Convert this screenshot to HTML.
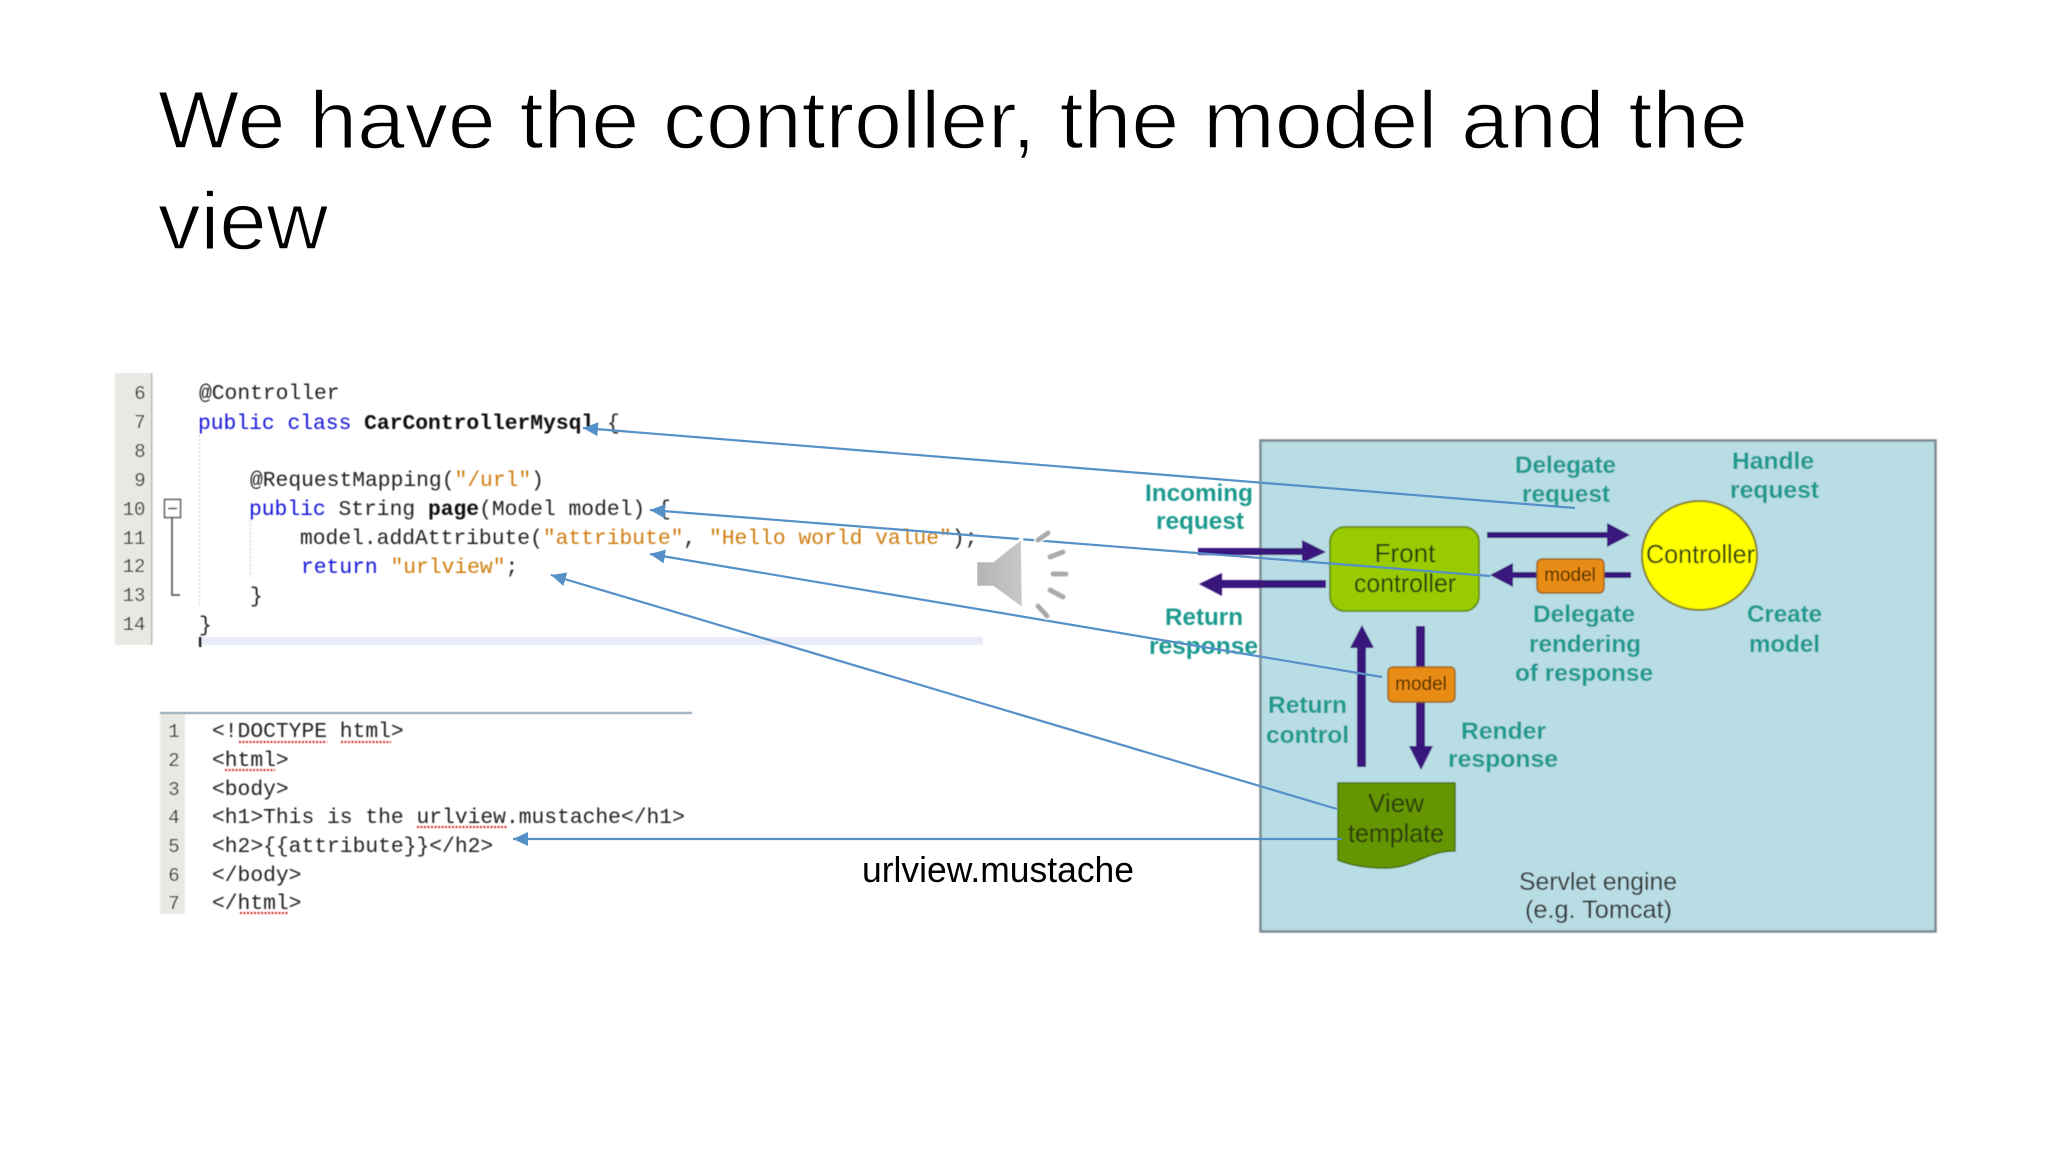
<!DOCTYPE html>
<html>
<head>
<meta charset="utf-8">
<style>
html,body{margin:0;padding:0;background:#fff;width:2048px;height:1152px;overflow:hidden}
svg{display:block}
text{white-space:pre}
.t{font-family:"Liberation Sans",sans-serif;font-size:82px;fill:#000;stroke:#fff;stroke-width:1.4px}
.m{font-family:"Liberation Mono",monospace;font-size:21.3px;fill:#222}
.n{font-family:"Liberation Mono",monospace;font-size:19px;fill:#333;text-anchor:middle}
.k{fill:#1212d8}
.s{fill:#cf7d10}
.b{font-weight:bold;fill:#111}
.l{font-family:"Liberation Sans",sans-serif;font-size:24px;font-weight:bold;fill:#1f9a90}
.d{font-family:"Liberation Sans",sans-serif;font-size:26px;fill:#2c3a10}
.e{font-family:"Liberation Sans",sans-serif;font-size:25px;fill:#333}
.o{font-family:"Liberation Sans",sans-serif;font-size:19px;fill:#4a2500}
.a{stroke:#5590c8;stroke-width:2.2;fill:none;marker-end:url(#h)}
.q{stroke:#d82020;stroke-width:2;stroke-dasharray:2 1.5}
.p{fill:#37127c}
.w{stroke:#fff;stroke-width:8;stroke-linecap:round}
.g{stroke:#a9a9a9;stroke-width:5;stroke-linecap:round}
</style>
</head>
<body>
<svg width="2048" height="1152" viewBox="0 0 2048 1152" xmlns="http://www.w3.org/2000/svg">
<defs>
<marker id="h" markerUnits="userSpaceOnUse" markerWidth="16" markerHeight="14" refX="15" refY="7" orient="auto">
<path d="M0 0L15 7L0 14Z" fill="#5590c8"/>
</marker>
<linearGradient id="sp" x1="0" x2="1" y1="0" y2="0">
<stop offset="0" stop-color="#b4b4b4"/><stop offset="1" stop-color="#c8c8c8"/>
</linearGradient>
<filter id="bl" x="0" y="0" width="100%" height="100%" filterUnits="userSpaceOnUse" primitiveUnits="userSpaceOnUse">
<feGaussianBlur stdDeviation="0.55"/>
</filter>
</defs>
<rect width="2048" height="1152" fill="#fff"/>

<!-- Title -->
<text class="t" x="158" y="148" textLength="1590" lengthAdjust="spacingAndGlyphs">We have the controller, the model and the</text>
<text class="t" x="158" y="249" textLength="170" lengthAdjust="spacingAndGlyphs">view</text>

<g filter="url(#bl)">
<!-- Java code -->
<rect x="115" y="373" width="36" height="272" fill="#e9e9e4"/>
<rect x="151" y="373" width="1.5" height="272" fill="#b8b8b0"/>
<rect x="199" y="637" width="784" height="8" fill="#e9ecf8"/>
<rect x="199" y="637" width="2.5" height="10" fill="#111"/>
<text class="n" x="140" y="399">6</text>
<text class="n" x="140" y="428">7</text>
<text class="n" x="140" y="457">8</text>
<text class="n" x="140" y="486">9</text>
<text class="n" x="134" y="515">10</text>
<text class="n" x="134" y="544">11</text>
<text class="n" x="134" y="572">12</text>
<text class="n" x="134" y="601">13</text>
<text class="n" x="134" y="630">14</text>
<rect x="164.500" y="499.500" width="16" height="18" fill="#fff" stroke="#555" stroke-width="1.5"/>
<line x1="168" x2="177" y1="508.500" y2="508.500" stroke="#333" stroke-width="1.5"/>
<path d="M172 518V595H180" fill="none" stroke="#444" stroke-width="1.5"/>
<line x1="199.500" x2="199.500" y1="435" y2="607" stroke="#c8c8c8" stroke-width="1" stroke-dasharray="2 2"/>
<line x1="250.500" x2="250.500" y1="520" y2="577" stroke="#c8c8c8" stroke-width="1" stroke-dasharray="2 2"/>

<text class="m" x="199" y="399">@Controller</text>
<text class="m" x="198" y="429"><tspan class="k">public class</tspan> <tspan class="b">CarControllerMysql</tspan> {</text>
<text class="m" x="250" y="486">@RequestMapping(<tspan class="s">"/url"</tspan>)</text>
<text class="m" x="249" y="515"><tspan class="k">public</tspan> String <tspan class="b">page</tspan>(Model model) {</text>
<text class="m" x="300" y="544">model.addAttribute(<tspan class="s">"attribute"</tspan>, <tspan class="s">"Hello world value"</tspan>);</text>
<text class="m" x="301" y="573"><tspan class="k">return</tspan> <tspan class="s">"urlview"</tspan>;</text>
<text class="m" x="250" y="602">}</text>
<text class="m" x="199" y="631">}</text>

<!-- HTML code -->
<rect x="160" y="714" width="25" height="200" fill="#e9e9e4"/>
<rect x="160" y="712" width="532" height="2" fill="#8ea2b4"/>
<text class="n" x="174" y="737">1</text>
<text class="n" x="174" y="766">2</text>
<text class="n" x="174" y="795">3</text>
<text class="n" x="174" y="823">4</text>
<text class="n" x="174" y="852">5</text>
<text class="n" x="174" y="881">6</text>
<text class="n" x="174" y="909">7</text>
<text class="m" x="212" y="737">&lt;!DOCTYPE html&gt;</text>
<text class="m" x="212" y="766">&lt;html&gt;</text>
<text class="m" x="212" y="795">&lt;body&gt;</text>
<text class="m" x="212" y="823">&lt;h1&gt;This is the urlview.mustache&lt;/h1&gt;</text>
<text class="m" x="212" y="852">&lt;h2&gt;{{attribute}}&lt;/h2&gt;</text>
<text class="m" x="212" y="881">&lt;/body&gt;</text>
<text class="m" x="212" y="909">&lt;/html&gt;</text>
<line class="q" x1="239" x2="327" y1="742" y2="742"/>
<line class="q" x1="341" x2="391" y1="742" y2="742"/>
<line class="q" x1="225" x2="275" y1="770" y2="770"/>
<line class="q" x1="417" x2="507" y1="827" y2="827"/>
<line class="q" x1="240" x2="289" y1="913" y2="913"/>

<!-- Panel -->
<rect x="1260.500" y="440.500" width="675" height="491" fill="#b9dde4" stroke="#7b8c92" stroke-width="2.500"/>

<!-- Purple arrows -->
<path class="p" d="M1487 532H1607V523L1630 535L1607 547V538H1487Z"/>
<path class="p" d="M1198 548H1302V540L1326 552L1302 563V555H1198Z"/>
<path class="p" d="M1326 580H1222V573L1199 584L1222 596V588H1326Z"/>
<path class="p" d="M1631 572H1513V563L1490 575L1513 587V578H1631Z"/>
<path class="p" d="M1357 767V648H1350L1362 625L1374 648H1366V767Z"/>
<path class="p" d="M1416 626H1425V746H1433L1421 770L1409 746H1416Z"/>

<!-- Front controller -->
<rect x="1330" y="527" width="149" height="84" rx="15" fill="#99cc00" stroke="#6d9412" stroke-width="2"/>
<text class="d" x="1405" y="562" text-anchor="middle">Front</text>
<text class="d" x="1354" y="592" textLength="102" lengthAdjust="spacingAndGlyphs">controller</text>

<!-- Controller -->
<ellipse cx="1699.500" cy="555.500" rx="57.500" ry="54.500" fill="#ffff00" stroke="#848426" stroke-width="2"/>
<text class="d" x="1646" y="563" textLength="109" lengthAdjust="spacingAndGlyphs">Controller</text>

<!-- Model boxes -->
<rect x="1537" y="559" width="67" height="34" rx="5" fill="#e88c12" stroke="#a0651a" stroke-width="1.5"/>
<text class="o" x="1570" y="581" text-anchor="middle">model</text>
<rect x="1388" y="667" width="67" height="35" rx="5" fill="#e88c12" stroke="#a0651a" stroke-width="1.5"/>
<text class="o" x="1421" y="690" text-anchor="middle">model</text>

<!-- View template -->
<path d="M1338 783H1455V851C1425 851 1415 868 1385 868C1365 868 1350 865 1338 860Z" fill="#649600" stroke="#4a7208" stroke-width="1.5"/>
<text class="d" x="1396" y="812" text-anchor="middle">View</text>
<text class="d" x="1348" y="842" textLength="96" lengthAdjust="spacingAndGlyphs">template</text>

<!-- Teal labels -->
<text class="l" x="1145" y="501" textLength="108" lengthAdjust="spacingAndGlyphs">Incoming</text>
<text class="l" x="1156" y="529" textLength="88" lengthAdjust="spacingAndGlyphs">request</text>
<text class="l" x="1165" y="625" textLength="78" lengthAdjust="spacingAndGlyphs">Return</text>
<text class="l" x="1149" y="654" textLength="109" lengthAdjust="spacingAndGlyphs">response</text>
<text class="l" x="1515" y="473" textLength="101" lengthAdjust="spacingAndGlyphs">Delegate</text>
<text class="l" x="1522" y="502" textLength="88" lengthAdjust="spacingAndGlyphs">request</text>
<text class="l" x="1732" y="469" textLength="82" lengthAdjust="spacingAndGlyphs">Handle</text>
<text class="l" x="1730" y="498" textLength="89" lengthAdjust="spacingAndGlyphs">request</text>
<text class="l" x="1533" y="622" textLength="102" lengthAdjust="spacingAndGlyphs">Delegate</text>
<text class="l" x="1529" y="652" textLength="112" lengthAdjust="spacingAndGlyphs">rendering</text>
<text class="l" x="1515" y="681" textLength="138" lengthAdjust="spacingAndGlyphs">of response</text>
<text class="l" x="1747" y="622" textLength="75" lengthAdjust="spacingAndGlyphs">Create</text>
<text class="l" x="1749" y="652" textLength="71" lengthAdjust="spacingAndGlyphs">model</text>
<text class="l" x="1268" y="713" textLength="79" lengthAdjust="spacingAndGlyphs">Return</text>
<text class="l" x="1266" y="743" textLength="83" lengthAdjust="spacingAndGlyphs">control</text>
<text class="l" x="1461" y="739" textLength="85" lengthAdjust="spacingAndGlyphs">Render</text>
<text class="l" x="1448" y="767" textLength="110" lengthAdjust="spacingAndGlyphs">response</text>

<text class="e" x="1519" y="890" textLength="158" lengthAdjust="spacingAndGlyphs">Servlet engine</text>
<text class="e" x="1525" y="918" textLength="147" lengthAdjust="spacingAndGlyphs">(e.g. Tomcat)</text>
</g>

<text x="862" y="882" textLength="272" lengthAdjust="spacingAndGlyphs" style="font-family:'Liberation Sans',sans-serif;font-size:36px;fill:#000">urlview.mustache</text>

<!-- Blue connectors -->
<line class="a" x1="1575" y1="508" x2="583" y2="428"/>
<line class="a" x1="1490" y1="576" x2="650" y2="510"/>
<line class="a" x1="1382" y1="677" x2="650" y2="554"/>
<line class="a" x1="1337" y1="809" x2="551" y2="575"/>
<line class="a" x1="1342" y1="839" x2="513" y2="839"/>

<!-- Speaker -->
<path d="M976 561H993L1022 538L1023 609L993 587H976Z" fill="url(#sp)" stroke="#fff" stroke-width="2.500"/>
<g filter="url(#bl)">
<line class="w" x1="1038" y1="540" x2="1048" y2="533"/>
<line class="w" x1="1050" y1="557" x2="1063" y2="552"/>
<line class="w" x1="1053" y1="574" x2="1066" y2="574"/>
<line class="w" x1="1050" y1="590" x2="1063" y2="597"/>
<line class="w" x1="1038" y1="606" x2="1047" y2="616"/>
<line class="g" x1="1038" y1="540" x2="1048" y2="533"/>
<line class="g" x1="1050" y1="557" x2="1063" y2="552"/>
<line class="g" x1="1053" y1="574" x2="1066" y2="574"/>
<line class="g" x1="1050" y1="590" x2="1063" y2="597"/>
<line class="g" x1="1038" y1="606" x2="1047" y2="616"/>
</g>
</svg>
</body>
</html>
